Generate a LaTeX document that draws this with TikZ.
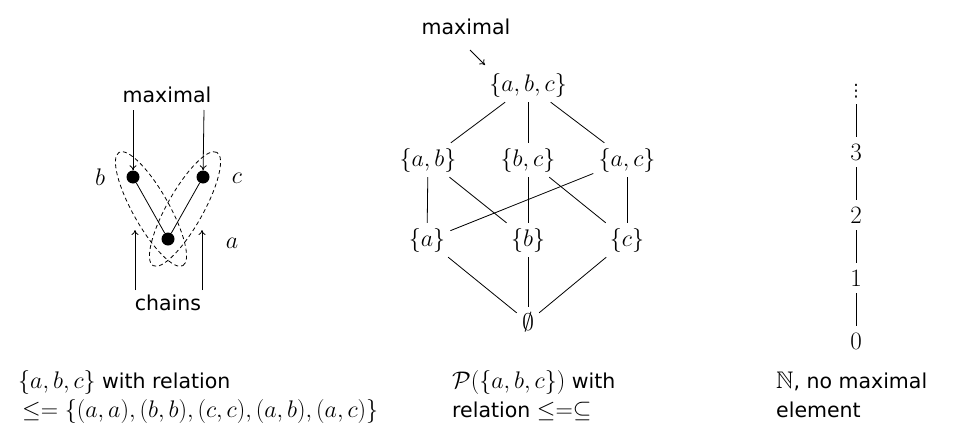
\RequirePackage{fix-cm}
\documentclass[tikz,border=0pt]{standalone}
\usepackage{amssymb}
\usepackage{fontspec}
\setmainfont{DejaVu Sans}
\usetikzlibrary{arrows.meta}
\newcommand{\MathZ}[1]{{\fontsize{24}{28}\selectfont$#1$}}
\newcommand{\MathH}[1]{{\fontsize{24}{28}\selectfont$#1$}}
\begin{document}
\begin{tikzpicture}[x=1pt,y=-1pt,
  every node/.style={font=\fontsize{20.5}{24}\selectfont},
  dot/.style={circle,fill=black,inner sep=0pt,minimum size=13pt},
  edge/.style={line width=0.8pt},
  arr/.style={line width=0.8pt,-{To[length=5pt,width=7pt]}},
  chain/.style={line width=0.8pt,dashed,dash pattern=on 4pt off 3pt},
  hasse/.style={inner sep=5pt},
  num/.style={inner sep=2pt,font=\fontsize{25}{28}\selectfont},
  caption/.style={anchor=base west,inner sep=0pt}]
\useasboundingbox (0,0) rectangle (957,444);
% ---------- left diagram ----------
\node[dot] (b) at (133,177) {};
\node[dot] (c) at (203,177) {};
\node[dot] (a) at (168,239) {};
\node (lb) at (100,177) {\MathH{b}};
\node (lc) at (237,178) {\MathH{c}};
\node (la) at (232,243) {\MathH{a}};
\draw[edge] (b) -- (a);
\draw[edge] (c) -- (a);
\draw[chain, rotate around={-60.6:(151,209)}] (151,209) ellipse [x radius=65pt, y radius=18pt];
\draw[chain, rotate around={60.6:(185,209)}] (185,209) ellipse [x radius=65pt, y radius=18pt];
\node (max1) at (167,95) {maximal};
\coordinate (m1) at (133,110);
\coordinate (m2) at (204,110);
\draw[arr] (m1) -- (b);
\draw[arr] (m2) -- (c);
\node (chains) at (168,303) {chains};
\coordinate (c1s) at (135,290);
\coordinate (c1e) at (135,230);
\coordinate (c2s) at (202,290);
\coordinate (c2e) at (202,230);
\draw[arr] (c1s) -- (c1e);
\draw[arr] (c2s) -- (c2e);
% ---------- middle diagram ----------
\node[hasse] (abc) at (528,85) {\MathH{\{a,b,c\}}};
\node[hasse] (ab) at (428,160) {\MathH{\{a,b\}}};
\node[hasse] (bc) at (528,160) {\MathH{\{b,c\}}};
\node[hasse] (ac) at (627,160) {\MathH{\{a,c\}}};
\node[hasse] (sa) at (427,240) {\MathH{\{a\}}};
\node[hasse] (sb) at (528,240) {\MathH{\{b\}}};
\node[hasse] (sc) at (627,240) {\MathH{\{c\}}};
\node[hasse] (e) at (528,322) {\MathH{\emptyset}};
\node (max2) at (466,27) {maximal};
\coordinate (m3) at (470,50);
\coordinate (m4) at (485,65);
\draw[arr] (m3) -- (m4);
\draw[edge] (abc) -- (ab);
\draw[edge] (abc) -- (bc);
\draw[edge] (abc) -- (ac);
\draw[edge] (ab) -- (sa);
\draw[edge] (ab) -- (sb);
\draw[edge] (bc) -- (sb);
\draw[edge] (bc) -- (sc);
\draw[edge] (ac) -- (sa);
\draw[edge] (ac) -- (sc);
\draw[edge] (sa) -- (e);
\draw[edge] (sb) -- (e);
\draw[edge] (sc) -- (e);
% ---------- right diagram ----------
\node[num,font=\fontsize{17}{20}\selectfont] (n4) at (856,91) {⋮};
\node[num] (n3) at (856,152) {$3$};
\node[num] (n2) at (856,215) {$2$};
\node[num] (n1) at (856,278) {$1$};
\node[num] (n0) at (856,341) {$0$};
\draw[edge,shorten <=4pt,shorten >=5pt] (n4) -- (n3);
\draw[edge,shorten <=5pt,shorten >=5pt] (n3) -- (n2);
\draw[edge,shorten <=5pt,shorten >=5pt] (n2) -- (n1);
\draw[edge,shorten <=5pt,shorten >=5pt] (n1) -- (n0);
% ---------- captions ----------
\node[caption] (t1) at (18,388) {\MathZ{\{a,b,c\}} with relation};
\node[caption] (t2) at (22,417) {\MathZ{\leq=\{(a,a),(b,b),(c,c),(a,b),(a,c)\}}};
\node[caption] (t3) at (452,388) {\MathZ{\mathcal{P}(\{a,b,c\})} with};
\node[caption] (t4) at (452,417) {relation \MathZ{\leq=\subseteq}};
\node[caption] (t5) at (776,388) {\MathZ{\mathbb{N}}, no maximal};
\node[caption] (t6) at (776,417) {element};
\end{tikzpicture}
\end{document}
